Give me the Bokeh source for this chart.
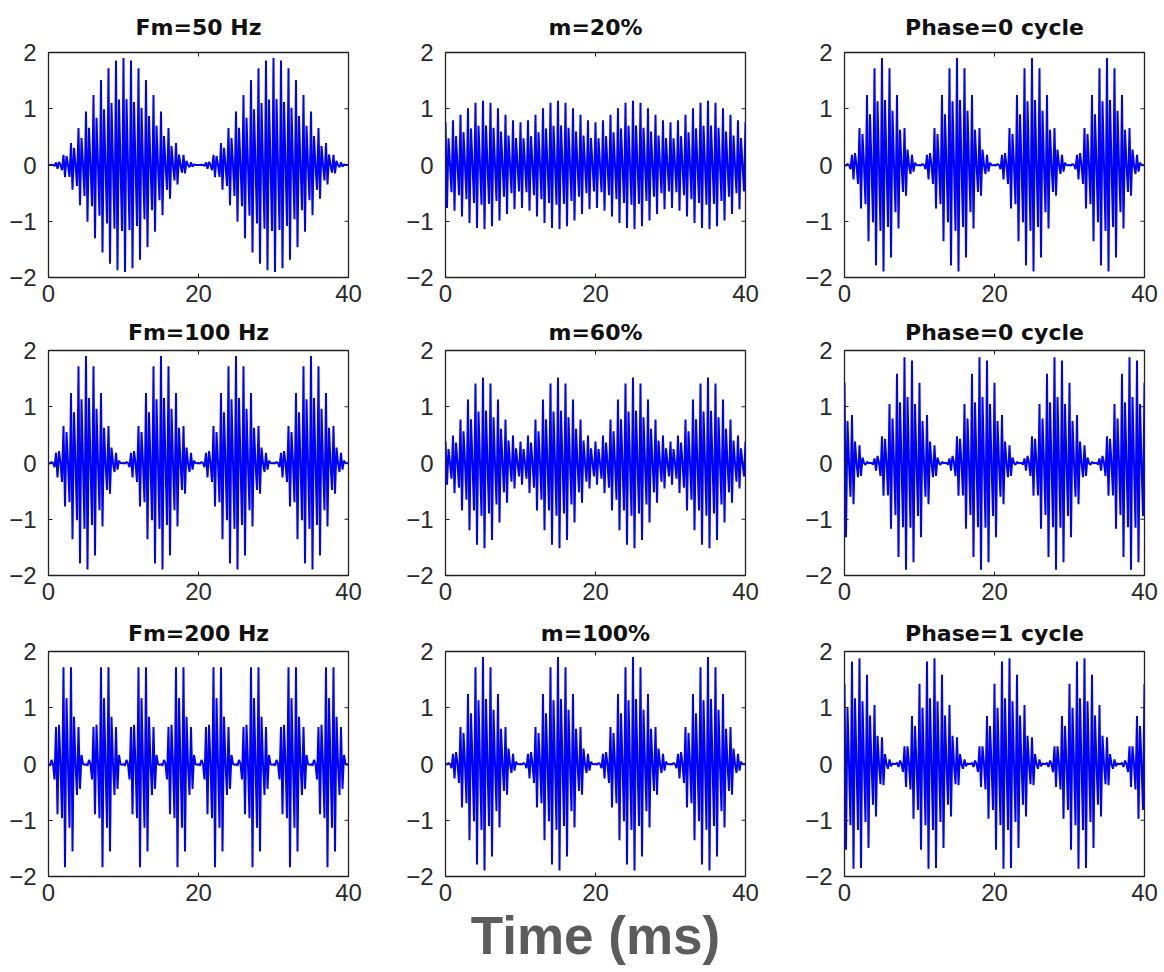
import numpy as np
from bokeh.plotting import figure
from bokeh.layouts import column, row
from bokeh.models import FixedTicker, Range1d
from bokeh.embed import file_html
from bokeh.resources import INLINE

# ---- data (parameters) ----
titles = ["Fm=50 Hz", "m=20%", "Phase=0 cycle",
          "Fm=100 Hz", "m=60%", "Phase=0 cycle",
          "Fm=200 Hz", "m=100%", "Phase=1 cycle"]
fm_hz = [50, 100, 100, 100, 100, 100, 200, 100, 100]
mod_index = [1.0, 0.2, 1.0, 1.0, 0.6, 1.0, 1.0, 1.0, 1.0]
phase_cycles = [0.0, 0.0, 0.0, 0.0, 0.0, 1.0 / 3.0, 0.0, 0.0, 2.0 / 3.0]
carrier_hz = 2000.0
sample_rate_hz = 5000.0
carrier_phase_deg = 18.0
duration_ms = 40.0
x_ticks = [0, 20, 40]
y_ticks = [-2, -1, 0, 1, 2]
x_label = "Time (ms)"

FONT = "Liberation Sans"
TITLE_FONT = "DejaVu Sans"
DARK = "#222222"

t_s = np.arange(0, duration_ms / 1000.0 + 0.5 / sample_rate_hz, 1.0 / sample_rate_hz)
t_ms = t_s * 1000.0

col_borders = [(48, 49), (48, 50), (49, 16)]
row_borders = [(52, 34), (38, 36), (40, 100)]
title_standoff = [25, 12, 12]


def make(i):
    r, c = divmod(i, 3)
    env = 1.0 - mod_index[i] * np.cos(2 * np.pi * (fm_hz[i] * t_s - phase_cycles[i]))
    y = env * np.cos(2 * np.pi * carrier_hz * t_s + np.deg2rad(carrier_phase_deg))

    p = figure(frame_width=300, frame_height=225,
               x_range=Range1d(x_ticks[0], x_ticks[-1]), y_range=Range1d(y_ticks[0], y_ticks[-1]),
               output_backend="svg", toolbar_location=None,
               min_border_left=col_borders[c][0], min_border_right=col_borders[c][1],
               min_border_top=row_borders[r][0], min_border_bottom=row_borders[r][1],
               title=titles[i])
    p.title.align = "center"
    p.title.text_font = TITLE_FONT
    p.title.text_font_style = "bold"
    p.title.text_font_size = "22px"
    p.title.text_color = "#111111"
    p.title.standoff = title_standoff[r]
    p.xgrid.visible = False
    p.ygrid.visible = False
    p.background_fill_color = "white"
    p.border_fill_color = "white"
    p.outline_line_color = DARK
    p.outline_line_width = 1.3

    p.line(t_ms, y, line_color="#0000ff", line_width=2.0)

    # mirrored inner ticks on the top and right edges (MATLAB box style)
    p.ray(x=x_ticks, y=[y_ticks[-1]] * len(x_ticks), length=4, length_units="screen",
          angle=-np.pi / 2, line_color=DARK, line_width=1)
    p.ray(x=[x_ticks[-1]] * len(y_ticks), y=y_ticks, length=4, length_units="screen",
          angle=np.pi, line_color=DARK, line_width=1)

    xa = p.xaxis[0]
    ya = p.yaxis[0]
    for ax, ticks in ((xa, x_ticks), (ya, y_ticks)):
        ax.ticker = FixedTicker(ticks=ticks)
        ax.major_tick_in = 4
        ax.major_tick_out = 0
        ax.minor_tick_line_color = None
        ax.major_tick_line_color = DARK
        ax.axis_line_color = DARK
        ax.major_label_text_font = FONT
        ax.major_label_text_font_size = "24px"
        ax.major_label_text_color = "#2a2a2a"
    xa.major_label_standoff = 7
    ya.major_label_standoff = 12

    if i == 7:
        xa.axis_label = x_label
        xa.axis_label_text_font = FONT
        xa.axis_label_text_font_style = "bold"
        xa.axis_label_text_font_size = "53px"
        xa.axis_label_text_color = "#5c5c5c"
        xa.axis_label_standoff = 2
    return p


figs = [make(i) for i in range(9)]
layout = column(row(figs[0:3], spacing=0), row(figs[3:6], spacing=0),
                row(figs[6:9], spacing=0), spacing=0)

open("out.html", "w").write(file_html(layout, INLINE))
